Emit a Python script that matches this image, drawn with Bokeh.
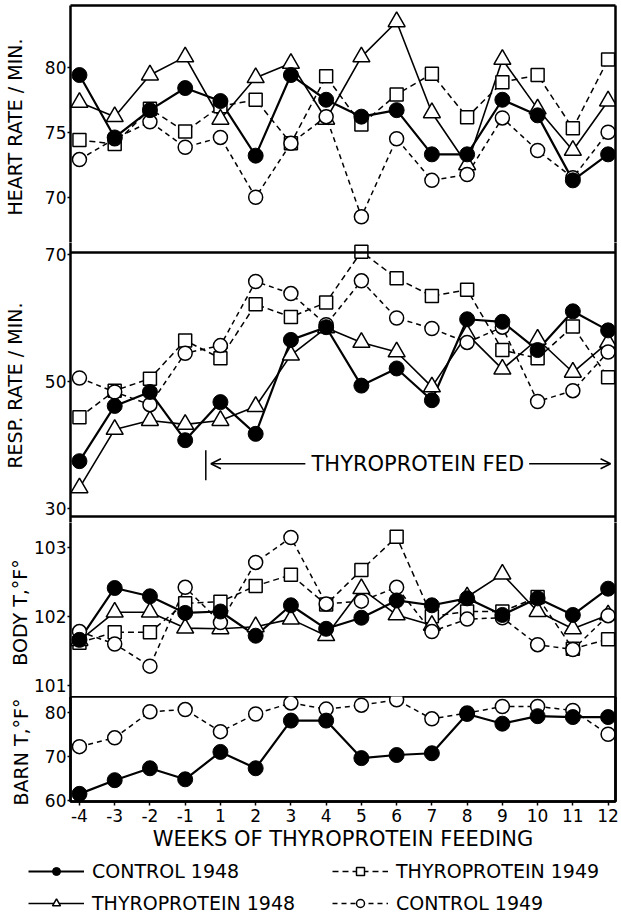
from bokeh.plotting import figure
from bokeh.models import (Range1d, FixedTicker, LinearAxis, Span, Arrow, OpenHead,
                          Label, Legend, LegendItem, ColumnDataSource)
from bokeh.layouts import column
from bokeh.embed import file_html
from bokeh.resources import INLINE

# ---------------- data ----------------
weeks = [-4, -3, -2, -1, 1, 2, 3, 4, 5, 6, 7, 8, 9, 10, 11, 12]
week_labels = [str(w) for w in weeks]

heart_control_1948 = [79.4, 74.6, 76.7, 78.4, 77.4, 73.2, 79.4, 77.5, 76.2, 76.7, 73.3, 73.3, 77.5, 76.3, 71.3, 73.3]
heart_thyro_1948 = [77.3, 76.2, 79.4, 80.8, 76.0, 79.2, 80.3, 76.0, 80.8, 83.5, 76.5, 72.5, 80.6, 76.8, 73.6, 77.4]
heart_thyro_1949 = [74.4, 74.1, 76.8, 75.05, 77.0, 77.5, 74.15, 79.3, 75.6, 77.9, 79.5, 76.15, 78.85, 79.4, 75.3, 80.6]
heart_control_1949 = [72.9, 74.5, 75.8, 73.85, 74.6, 70.0, 74.15, 76.2, 68.5, 74.5, 71.3, 71.75, 76.1, 73.6, 71.5, 75.0]

resp_control_1948 = [37.5, 46.2, 48.4, 40.8, 46.8, 41.8, 56.6, 58.6, 49.4, 52.1, 47.1, 59.85, 59.45, 55.0, 61.1, 58.1]
resp_thyro_1948 = [33.3, 42.5, 43.9, 43.3, 43.9, 46.1, 54.2, 58.5, 56.2, 54.7, 49.2, 57.5, 52.0, 56.7, 51.5, 56.2]
resp_thyro_1949 = [44.4, 48.6, 50.5, 56.5, 53.7, 62.2, 60.2, 62.5, 70.5, 66.3, 63.5, 64.5, 55.0, 53.7, 58.7, 50.7]
resp_control_1949 = [50.6, 48.4, 46.4, 54.5, 55.7, 65.8, 63.9, 59.0, 65.9, 60.05, 58.4, 56.2, 58.6, 46.9, 48.6, 54.7]

body_control_1948 = [101.66, 102.41, 102.29, 102.05, 102.07, 101.72, 102.16, 101.82, 101.98, 102.23, 102.16, 102.26, 102.02, 102.26, 102.02, 102.4]
body_thyro_1948 = [101.65, 102.06, 102.06, 101.83, 101.82, 101.85, 101.96, 101.72, 102.4, 102.02, 101.87, 102.28, 102.61, 102.07, 101.82, 102.02]
body_thyro_1949 = [101.62, 101.77, 101.77, 102.19, 102.21, 102.44, 102.6, 102.17, 102.67, 103.15, 102.0, 102.07, 102.07, 102.28, 101.53, 101.67]
body_control_1949 = [101.78, 101.6, 101.28, 102.42, 101.91, 102.78, 103.14, 102.18, 102.22, 102.42, 101.78, 101.96, 101.98, 101.59, 101.52, 102.01]

barn_control_1948 = [61.5, 64.6, 67.3, 64.8, 71.0, 67.3, 78.1, 78.1, 69.6, 70.3, 70.7, 79.6, 77.4, 79.1, 78.9, 78.9]
barn_control_1949 = [72.2, 74.2, 80.1, 80.6, 75.6, 79.6, 82.1, 80.7, 81.6, 82.8, 78.5, 79.8, 81.3, 81.3, 80.4, 75.0]

heart_ticks = [70, 75, 80]
resp_ticks = [30, 50, 70]
body_ticks = [101, 102, 103]
barn_ticks = [60, 70, 80]

# ---------------- styling ----------------
FONT = "DejaVu Sans"
W = 620
LEFT = 67
RIGHT = 5
pos = list(range(len(weeks)))
XR = (-0.254, 15.21)


def no_tick_axis():
    return LinearAxis(ticker=FixedTicker(ticks=[]), major_label_text_font_size="0px",
                      major_tick_out=0, major_tick_in=0, minor_tick_out=0, minor_tick_in=0,
                      major_label_standoff=0, axis_line_width=2.5, axis_line_color="black")


def make_fig(height, yr, ticks, label, lab_standoff, outline=False, xaxis=False,
             min_top=0, min_bottom=0):
    p = figure(width=W, height=height, x_range=Range1d(*XR), y_range=Range1d(*yr),
               output_backend="svg", toolbar_location=None,
               min_border_left=LEFT, min_border_right=RIGHT,
               min_border_top=min_top, min_border_bottom=min_bottom,
               x_axis_location="below" if xaxis else None)
    p.grid.visible = False
    p.background_fill_color = "white"
    p.border_fill_color = "white"
    p.outline_line_color = "black" if outline else None
    p.outline_line_width = 2.5
    ya = p.yaxis[0]
    ya.ticker = FixedTicker(ticks=ticks)
    ya.axis_line_width = 2.5
    ya.major_tick_line_width = 1.5
    ya.major_tick_out = 3
    ya.major_tick_in = 0
    ya.minor_tick_out = 0
    ya.minor_tick_in = 0
    ya.major_label_standoff = 1
    ya.major_label_text_font = FONT
    ya.major_label_text_font_size = "17px"
    ya.major_label_text_color = "black"
    ya.axis_label = label
    ya.axis_label_text_font = FONT
    ya.axis_label_text_font_size = "19px"
    ya.axis_label_text_font_style = "normal"
    ya.axis_label_text_color = "black"
    ya.axis_label_standoff = lab_standoff
    p.add_layout(no_tick_axis(), "right")
    return p


def draw_series(p, src, names):
    styles = {
        "t49": dict(line=dict(line_dash="6 4", line_width=1.5),
                    mk=dict(marker="square", size=13, fill_color="white", line_width=1.5)),
        "c49": dict(line=dict(line_dash="5 4", line_width=1.5),
                    mk=dict(marker="circle", size=14, fill_color="white", line_width=1.5)),
        "t48": dict(line=dict(line_width=1.6),
                    mk=dict(marker="triangle", size=17, fill_color="white", line_width=1.5)),
        "c48": dict(line=dict(line_width=2.2),
                    mk=dict(marker="circle", size=15, fill_color="black", line_width=1)),
    }
    rl, rs = {}, {}
    for n in ["t49", "c49", "t48", "c48"]:
        if n in names:
            rl[n] = p.line("x", n, source=src, line_color="black", **styles[n]["line"])
    for n in ["t49", "t48", "c49", "c48"]:
        if n in names:
            rs[n] = p.scatter("x", n, source=src, line_color="black", **styles[n]["mk"])
    return rl, rs


def hline(p, value):
    p.add_layout(Span(location=value, dimension="width", line_color="black", line_width=2.5))


# ---------------- heart ----------------
heart_src = ColumnDataSource(dict(x=pos, c48=heart_control_1948, t48=heart_thyro_1948,
                                  t49=heart_thyro_1949, c49=heart_control_1949))
heart = make_fig(242, (66.52, 84.75), heart_ticks, "HEART  RATE / MIN.", 16, min_top=5)
heart.add_layout(no_tick_axis(), "above")
draw_series(heart, heart_src, ["c48", "t48", "t49", "c49"])

# ---------------- resp ----------------
resp_src = ColumnDataSource(dict(x=pos, c48=resp_control_1948, t48=resp_thyro_1948,
                                 t49=resp_thyro_1949, c49=resp_control_1949))
resp = make_fig(280, (27.84, 71.94), resp_ticks, "RESP.  RATE / MIN.", 16)
hline(resp, 70.36)
hline(resp, 28.79)
draw_series(resp, resp_src, ["c48", "t48", "t49", "c49"])
resp.add_layout(Arrow(start=None, end=None, x_start=3.585, x_end=3.585, y_start=34.5, y_end=39.2,
                      line_width=1.5, line_color="black"))
resp.add_layout(Arrow(start=None, end=OpenHead(size=10, line_width=1.5), x_start=6.41, x_end=3.73,
                      y_start=37.1, y_end=37.1, line_width=1.5, line_color="black"))
resp.add_layout(Arrow(start=None, end=OpenHead(size=10, line_width=1.5), x_start=12.76, x_end=15.07,
                      y_start=37.1, y_end=37.1, line_width=1.5, line_color="black"))
resp.add_layout(Label(x=9.6, y=37.1, text="THYROPROTEIN FED", text_align="center",
                      text_baseline="middle", text_font=FONT, text_font_size="21px",
                      text_color="black"))

# ---------------- body ----------------
body_src = ColumnDataSource(dict(x=pos, c48=body_control_1948, t48=body_thyro_1948,
                                 t49=body_thyro_1949, c49=body_control_1949))
body = make_fig(174, (100.841, 103.357), body_ticks, "BODY  T,°F°", 0)
draw_series(body, body_src, ["c48", "t48", "t49", "c49"])

# ---------------- barn ----------------
barn_src = ColumnDataSource(dict(x=pos, c48=barn_control_1948, c49=barn_control_1949))
barn = make_fig(161, (59.77, 83.56), barn_ticks, "BARN  T,°F°", 10, outline=True,
                xaxis=True, min_bottom=56)
draw_series(barn, barn_src, ["c48", "c49"])
xa = barn.xaxis[0]
xa.ticker = FixedTicker(ticks=pos)
xa.major_label_overrides = {i: lab for i, lab in enumerate(week_labels)}
xa.axis_line_width = 2.5
xa.major_tick_line_width = 1.5
xa.major_tick_out = 4
xa.major_tick_in = 0
xa.minor_tick_out = 0
xa.minor_tick_in = 0
xa.major_label_standoff = 3
xa.major_label_text_font = FONT
xa.major_label_text_font_size = "17px"
xa.major_label_text_color = "black"
xa.axis_label = "WEEKS OF THYROPROTEIN FEEDING"
xa.axis_label_text_font = FONT
xa.axis_label_text_font_size = "21px"
xa.axis_label_text_font_style = "normal"
xa.axis_label_text_color = "black"
xa.axis_label_standoff = 2

# ---------------- legend ----------------
lp = figure(width=W, height=58, x_range=Range1d(0, 1), y_range=Range1d(0, 1),
            x_axis_location=None, y_axis_location=None, output_backend="svg",
            toolbar_location=None, min_border=0, min_border_left=0, min_border_right=0,
            min_border_top=0, min_border_bottom=0)
lp.grid.visible = False
lp.outline_line_color = None
leg_x = 0
if "frame_align" in lp.properties():
    lp.frame_align = False
    leg_x = 28
leg_lines, leg_marks = draw_series(lp, heart_src, ["c48", "t48", "t49", "c49"])
for r in list(leg_lines.values()) + list(leg_marks.values()):
    r.visible = False
items = [
    LegendItem(label="CONTROL 1948", renderers=[leg_lines["c48"], leg_marks["c48"]]),
    LegendItem(label="THYROPROTEIN 1949", renderers=[leg_lines["t49"], leg_marks["t49"]]),
    LegendItem(label="THYROPROTEIN 1948", renderers=[leg_lines["t48"], leg_marks["t48"]]),
    LegendItem(label="CONTROL 1949", renderers=[leg_lines["c49"], leg_marks["c49"]]),
]
legend = Legend(items=items, location=(leg_x, 1), orientation="horizontal", ncols=2,
                glyph_width=56, glyph_height=20, label_standoff=8, label_width=230,
                label_height=20, spacing=10, padding=0, margin=0,
                border_line_color=None, background_fill_alpha=0,
                label_text_font=FONT, label_text_font_size="19px", label_text_color="black")
lp.add_layout(legend)

layout = column(heart, resp, body, barn, lp, spacing=0)
open("out.html", "w").write(file_html(layout, INLINE))
